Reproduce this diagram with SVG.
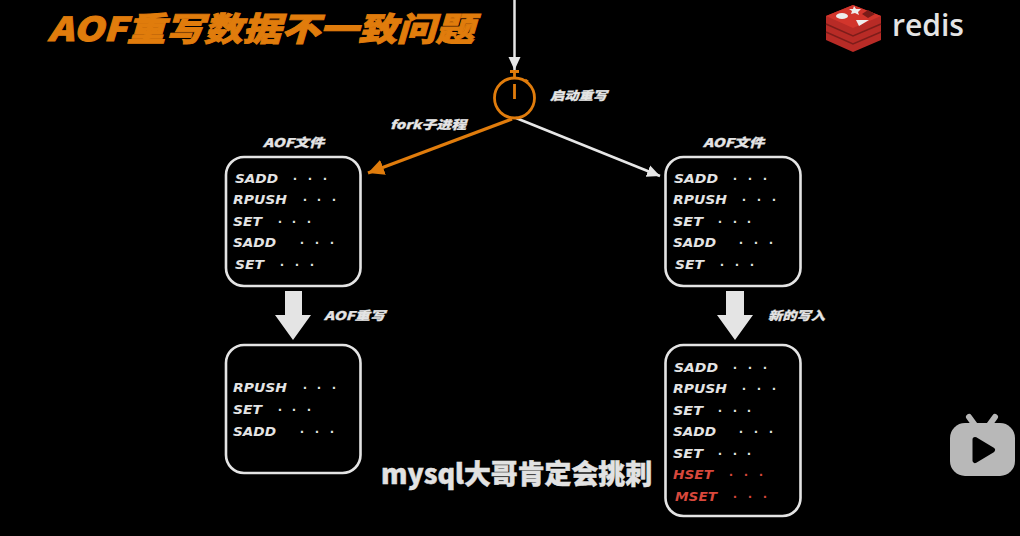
<svg xmlns="http://www.w3.org/2000/svg" width="1020" height="536" viewBox="0 0 1020 536">
<style>
text{font-family:"Noto Sans CJK SC","Liberation Sans",sans-serif;font-weight:700}
.t{font-family:"DejaVu Sans","Noto Sans CJK SC",sans-serif;font-style:italic;font-weight:700;font-size:12.5px;fill:#e4e4e4}
.l{font-family:"Noto Sans CJK SC","DejaVu Sans",sans-serif;font-style:italic;font-weight:900;font-size:12px;fill:#e4e4e4;stroke:#e4e4e4;stroke-width:.3}
.d{font-family:"Liberation Sans",sans-serif;font-size:14px;fill:#e4e4e4}
.b{fill:#000;stroke:#e4e4e4;stroke-width:2.6}
.red{fill:#d8483c}
</style>
<defs>
<marker id="hw" markerUnits="userSpaceOnUse" markerWidth="14" markerHeight="14" refX="13" refY="7" orient="auto"><path d="M0 1L13 7L0 13Z" fill="#e6e6e6"/></marker>
<marker id="ho" markerUnits="userSpaceOnUse" markerWidth="17" markerHeight="16" refX="16" refY="8" orient="auto"><path d="M0 0L16 8L0 16Z" fill="#e07c0c"/></marker>
</defs>
<rect width="1020" height="536" fill="#000"/>
<text id="title" x="48" y="41" font-size="33" font-style="italic" fill="#e07c0c" stroke="#e07c0c" stroke-width=".9" textLength="426" lengthAdjust="spacingAndGlyphs" style="font-weight:900">AOF重写数据不一致问题</text>

<g id="redis-logo">
<path d="M826 16L853 5L881 16V40L853 52L826 40Z" fill="#b82b26"/>
<path d="M826 24L853 36L881 24M826 32L853 44L881 32" fill="none" stroke="#7d1d1a" stroke-width="1.400"/>
<path d="M826 16L853 5L881 16L853 28Z" fill="#d2352c"/>
<ellipse cx="842" cy="16" rx="6" ry="3" fill="#eee"/>
<path d="M854 6L856 9L861 9L858 12L859 15L855 13L851 14L852 11L849 9L853 9Z" fill="#eee"/>
<path d="M856 20L869 20L859 26Z" fill="#eee"/>
<path d="M862 14L868 10L875 14L868 18Z" fill="#7a1b18"/>
<text x="892" y="36" font-size="31" fill="#e4e4e4" style="font-family:'Open Sans','Liberation Sans',sans-serif;font-weight:600" textLength="72" lengthAdjust="spacingAndGlyphs">redis</text>
</g>

<g id="connectors" fill="none">
<path d="M514.500 0V70" stroke="#e6e6e6" stroke-width="2.500" marker-end="url(#hw)"/>
<path d="M512 119L368 173" stroke="#e07c0c" stroke-width="3.200" marker-end="url(#ho)"/>
<path d="M516 118L660 176" stroke="#e6e6e6" stroke-width="2.600" marker-end="url(#hw)"/>
<path id="block-arrow-left" d="M285 291H302V315H311L293 340L275 315H285Z" fill="#e4e4e4"/>
<path id="block-arrow-right" d="M726 291H744V315H753L735 340L717 315H726Z" fill="#e4e4e4"/>
</g>

<g id="timer" fill="none" stroke="#e07c0c" stroke-width="2.800">
<circle cx="514.500" cy="98" r="20"/>
<path d="M514.500 72V78M510 71.500H519M514.500 84V99M525 80L528 82"/>
</g>

<text class="l" x="550" y="100" textLength="57" lengthAdjust="spacingAndGlyphs">启动重写</text>
<text class="l" x="390" y="129" textLength="76" lengthAdjust="spacingAndGlyphs">fork子进程</text>
<text class="l" x="263" y="147" textLength="61" lengthAdjust="spacingAndGlyphs">AOF文件</text>
<text class="l" x="703" y="147" textLength="61" lengthAdjust="spacingAndGlyphs">AOF文件</text>
<text class="l" x="324" y="320" textLength="61" lengthAdjust="spacingAndGlyphs">AOF重写</text>
<text class="l" x="768" y="320" textLength="57" lengthAdjust="spacingAndGlyphs">新的写入</text>

<g id="box-top-left">
<rect class="b" x="226" y="157" width="134.500" height="129" rx="18"/>
<text class="t" x="235" y="183" textLength="43" lengthAdjust="spacingAndGlyphs">SADD</text><text class="d" x="293 308 323" y="184">···</text>
<text class="t" x="233" y="204" textLength="54" lengthAdjust="spacingAndGlyphs">RPUSH</text><text class="d" x="303 317 332" y="205">···</text>
<text class="t" x="233" y="226" textLength="29" lengthAdjust="spacingAndGlyphs">SET</text><text class="d" x="278 292 307" y="227">···</text>
<text class="t" x="233" y="247" textLength="43" lengthAdjust="spacingAndGlyphs">SADD</text><text class="d" x="300 315 330" y="248">···</text>
<text class="t" x="235" y="269" textLength="29" lengthAdjust="spacingAndGlyphs">SET</text><text class="d" x="280 295 310" y="270">···</text>
</g>

<g id="box-top-right">
<rect class="b" x="665.500" y="157" width="135" height="129" rx="18"/>
<text class="t" x="674" y="183" textLength="44" lengthAdjust="spacingAndGlyphs">SADD</text><text class="d" x="733 748 763" y="184">···</text>
<text class="t" x="673" y="204" textLength="54" lengthAdjust="spacingAndGlyphs">RPUSH</text><text class="d" x="742 757 772" y="205">···</text>
<text class="t" x="673" y="226" textLength="30" lengthAdjust="spacingAndGlyphs">SET</text><text class="d" x="718 733 747" y="227">···</text>
<text class="t" x="673" y="247" textLength="43" lengthAdjust="spacingAndGlyphs">SADD</text><text class="d" x="739 754 769" y="248">···</text>
<text class="t" x="675" y="269" textLength="29" lengthAdjust="spacingAndGlyphs">SET</text><text class="d" x="720 735 750" y="270">···</text>
</g>

<g id="box-bottom-left">
<rect class="b" x="226" y="345" width="134.500" height="128" rx="18"/>
<text class="t" x="233" y="392" textLength="54" lengthAdjust="spacingAndGlyphs">RPUSH</text><text class="d" x="303 317 332" y="393">···</text>
<text class="t" x="233" y="414" textLength="29" lengthAdjust="spacingAndGlyphs">SET</text><text class="d" x="278 292 307" y="415">···</text>
<text class="t" x="233" y="436" textLength="43" lengthAdjust="spacingAndGlyphs">SADD</text><text class="d" x="300 315 330" y="437">···</text>
</g>

<g id="box-bottom-right">
<rect class="b" x="665.500" y="345" width="135" height="171" rx="18"/>
<text class="t" x="674" y="372" textLength="44" lengthAdjust="spacingAndGlyphs">SADD</text><text class="d" x="733 748 763" y="373">···</text>
<text class="t" x="673" y="393" textLength="54" lengthAdjust="spacingAndGlyphs">RPUSH</text><text class="d" x="742 757 772" y="394">···</text>
<text class="t" x="673" y="415" textLength="30" lengthAdjust="spacingAndGlyphs">SET</text><text class="d" x="718 733 747" y="416">···</text>
<text class="t" x="673" y="436" textLength="43" lengthAdjust="spacingAndGlyphs">SADD</text><text class="d" x="739 754 769" y="437">···</text>
<text class="t" x="673" y="458" textLength="30" lengthAdjust="spacingAndGlyphs">SET</text><text class="d" x="718 733 747" y="459">···</text>
<text class="t" x="673" y="479" textLength="40" lengthAdjust="spacingAndGlyphs" style="fill:#d8483c">HSET</text><text class="d" x="729 744 759" y="480" style="fill:#d8483c">···</text>
<text class="t" x="675" y="501" textLength="42" lengthAdjust="spacingAndGlyphs" style="fill:#d8483c">MSET</text><text class="d" x="733 748 763" y="502" style="fill:#d8483c">···</text>
</g>

<text id="subtitle" x="381" y="484" font-size="27" fill="#e2e2e2" stroke="#e2e2e2" stroke-width=".5" textLength="271" lengthAdjust="spacingAndGlyphs" style="font-weight:900">mysql大哥肯定会挑刺</text>

<g id="tv-icon">
<path d="M969 417L977 428M995 417L987 428" stroke="#b8b8b8" stroke-width="6" stroke-linecap="round" fill="none"/>
<rect x="950" y="423" width="65" height="53" rx="15" fill="#b8b8b8"/>
<path d="M975 439.500L992.500 450L975 460.500Z" fill="#000" stroke="#000" stroke-width="5" stroke-linejoin="round"/>
</g>
</svg>
